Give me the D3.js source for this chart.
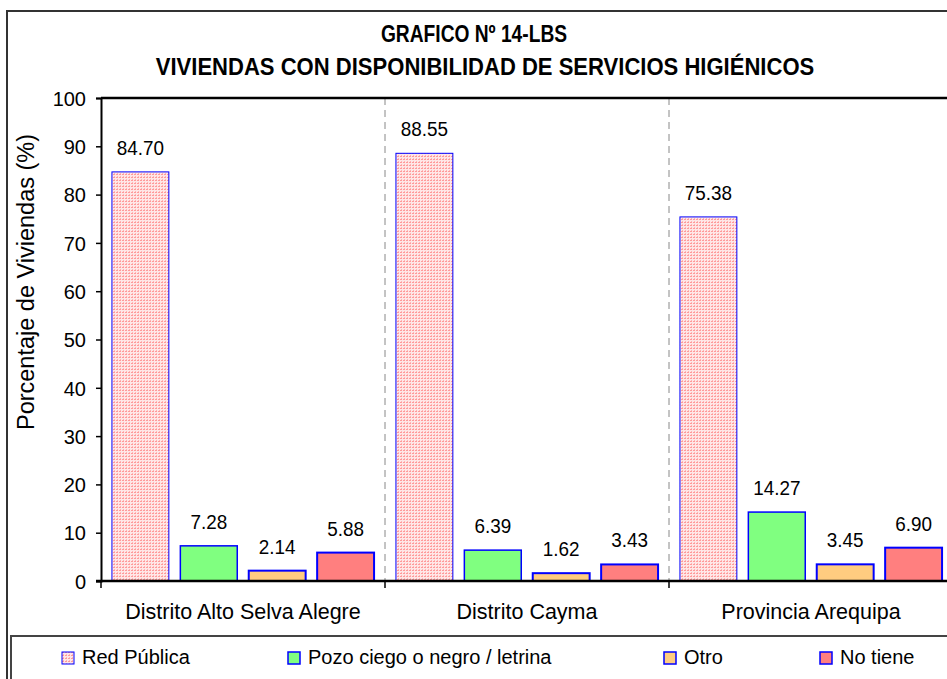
<!DOCTYPE html>
<html>
<head>
  <meta charset="utf-8">
  <style>
    body { margin: 0; background: #fff; }
    text { font-family: "Liberation Sans", Arial, sans-serif; fill: #000; }
  </style>
  <title>Viviendas con disponibilidad de servicios higiénicos</title>
  <script src="https://cdn.jsdelivr.net/npm/d3@7/dist/d3.min.js"></script>
</head>
<body>
<script>
  // Data
  const categories = ["Distrito Alto Selva Alegre", "Distrito Cayma", "Provincia Arequipa"];
  const seriesNames = ["Red Pública", "Pozo ciego o negro / letrina", "Otro", "No tiene"];
  const redPublica = [84.70, 88.55, 75.38];
  const pozoCiego = [7.28, 6.39, 14.27];
  const otro = [2.14, 1.62, 3.45];
  const noTiene = [5.88, 3.43, 6.90];
  const yTicks = [0, 10, 20, 30, 40, 50, 60, 70, 80, 90, 100];

  const seriesValues = [redPublica, pozoCiego, otro, noTiene];
  const fills = ["url(#dots)", "#80ff80", "#ffcc80", "#ff7f7f"];
  const strokeW = [1, 1.5, 2, 2];

  const width = 947, height = 679;
  const plot = {left: 101, top: 98, bottom: 581};
  const groupW = 284;

  const svg = d3.select("body").append("svg")
      .attr("width", width)
      .attr("height", height);

  // pink dotted pattern for "Red Pública"
  const pat = svg.append("defs").append("pattern")
      .attr("id", "dots")
      .attr("width", 3).attr("height", 3)
      .attr("patternUnits", "userSpaceOnUse");
  pat.append("rect").attr("width", 3).attr("height", 3).attr("fill", "#ffe6e6");
  pat.append("rect").attr("x", 0).attr("y", 0).attr("width", 2).attr("height", 1).attr("fill", "#ff9a9a");
  pat.append("rect").attr("x", 1).attr("y", 2).attr("width", 1).attr("height", 1).attr("fill", "#ffb4b4");

  // outer chart border
  svg.append("rect")
      .attr("x", 7).attr("y", 11)
      .attr("width", 1000).attr("height", 700)
      .attr("fill", "none")
      .attr("stroke", "#333")
      .attr("stroke-width", 2);

  // Title
  svg.append("text")
      .attr("transform", "translate(474,42) scale(0.8,1)")
      .attr("text-anchor", "middle")
      .style("font-weight", "bold")
      .style("font-size", "24px")
      .text("GRAFICO Nº 14-LBS");
  svg.append("text")
      .attr("transform", "translate(485,75) scale(0.9,1)")
      .attr("text-anchor", "middle")
      .style("font-weight", "bold")
      .style("font-size", "24.5px")
      .text("VIVIENDAS CON DISPONIBILIDAD DE SERVICIOS HIGIÉNICOS");

  // Scales
  const x0 = d3.scaleBand()
      .domain(categories)
      .range([plot.left, plot.left + groupW * categories.length])
      .padding(0);
  const x1 = d3.scaleBand()
      .domain(seriesNames)
      .range([0, x0.bandwidth()])
      .paddingInner(0.168)
      .paddingOuter(0.16);
  const y = d3.scaleLinear().domain([0, 100]).range([plot.bottom, plot.top]);

  // dashed separators between groups
  svg.append("g").selectAll("line")
      .data(categories.slice(1))
      .enter().append("line")
        .attr("x1", d => x0(d)).attr("x2", d => x0(d))
        .attr("y1", plot.top).attr("y2", plot.bottom)
        .attr("stroke", "#888")
        .attr("stroke-width", 1)
        .attr("stroke-dasharray", "7,5");

  // top border of plot area
  svg.append("line")
      .attr("x1", plot.left).attr("x2", width)
      .attr("y1", plot.top).attr("y2", plot.top)
      .attr("stroke", "#000").attr("stroke-width", 2.5);

  // Bars
  const groups = svg.append("g").attr("id", "bars")
    .selectAll("g")
    .data(categories)
    .enter().append("g")
      .attr("transform", d => "translate(" + x0(d) + ",0)");

  groups.selectAll("rect")
    .data((c, i) => seriesNames.map((s, j) => ({s: s, j: j, v: seriesValues[j][i]})))
    .enter().append("rect")
      .attr("x", d => x1(d.s))
      .attr("width", x1.bandwidth())
      .attr("y", d => y(d.v))
      .attr("height", d => y(0) - y(d.v))
      .attr("fill", d => fills[d.j])
      .attr("stroke", "#0000ff")
      .attr("stroke-width", d => strokeW[d.j]);

  groups.selectAll("text")
    .data((c, i) => seriesNames.map((s, j) => ({s: s, j: j, v: seriesValues[j][i]})))
    .enter().append("text")
      .attr("transform", d => "translate(" + (x1(d.s) + x1.bandwidth() / 2) + "," + (y(d.v) - 17) + ") scale(0.9,1)")
      .attr("text-anchor", "middle")
      .style("font-size", "21px")
      .text(d => d.v.toFixed(2));

  // Y axis
  const yAxis = svg.append("g")
      .attr("transform", "translate(" + plot.left + ",0)")
      .call(d3.axisLeft(y).tickValues(yTicks).tickSize(5).tickPadding(10).tickFormat(d3.format("d")));
  yAxis.select(".domain").attr("stroke", "#000").attr("stroke-width", 2);
  yAxis.selectAll(".tick line").attr("stroke", "#000").attr("stroke-width", 1.5);
  yAxis.selectAll(".tick text")
      .style("font-family", "'Liberation Sans', Arial, sans-serif")
      .style("font-size", "20px")
      .attr("dy", "0.36em");

  // X axis (baseline + ticks at group boundaries)
  const xAxis = svg.append("g")
      .attr("transform", "translate(0," + plot.bottom + ")");
  xAxis.append("line")
      .attr("x1", plot.left - 5).attr("x2", width)
      .attr("stroke", "#000").attr("stroke-width", 2.5);
  xAxis.selectAll(".xt")
      .data(categories.concat(["end"]))
      .enter().append("line")
        .attr("class", "xt")
        .attr("x1", (d, i) => plot.left + i * x0.bandwidth())
        .attr("x2", (d, i) => plot.left + i * x0.bandwidth())
        .attr("y1", 0).attr("y2", 7)
        .attr("stroke", "#000").attr("stroke-width", 1.5);
  xAxis.selectAll(".xl")
      .data(categories)
      .enter().append("text")
        .attr("class", "xl")
        .attr("x", d => x0(d) + x0.bandwidth() / 2)
        .attr("y", 38)
        .attr("text-anchor", "middle")
        .style("font-size", "21.5px")
        .text(d => d);

  // Y axis label
  svg.append("text")
      .attr("transform", "translate(34,282) rotate(-90)")
      .attr("text-anchor", "middle")
      .style("font-size", "23.5px")
      .text("Porcentaje de Viviendas (%)");

  // Legend
  svg.append("rect")
      .attr("x", 11).attr("y", 636)
      .attr("width", 1000).attr("height", 100)
      .attr("fill", "none")
      .attr("stroke", "#444")
      .attr("stroke-width", 2);

  const legendX = [62, 288, 664, 820];
  const legend = svg.append("g").selectAll("g")
      .data(seriesNames)
      .enter().append("g")
        .attr("transform", (d, i) => "translate(" + legendX[i] + ",652)");
  legend.append("rect")
      .attr("width", 12).attr("height", 12)
      .attr("fill", (d, i) => fills[i])
      .attr("stroke", "#0000ff")
      .attr("stroke-width", (d, i) => i === 0 ? 1 : 1.5);
  legend.append("text")
      .attr("x", 20).attr("y", 12)
      .style("font-size", "20px")
      .text(d => d);
</script>
</body>
</html>
